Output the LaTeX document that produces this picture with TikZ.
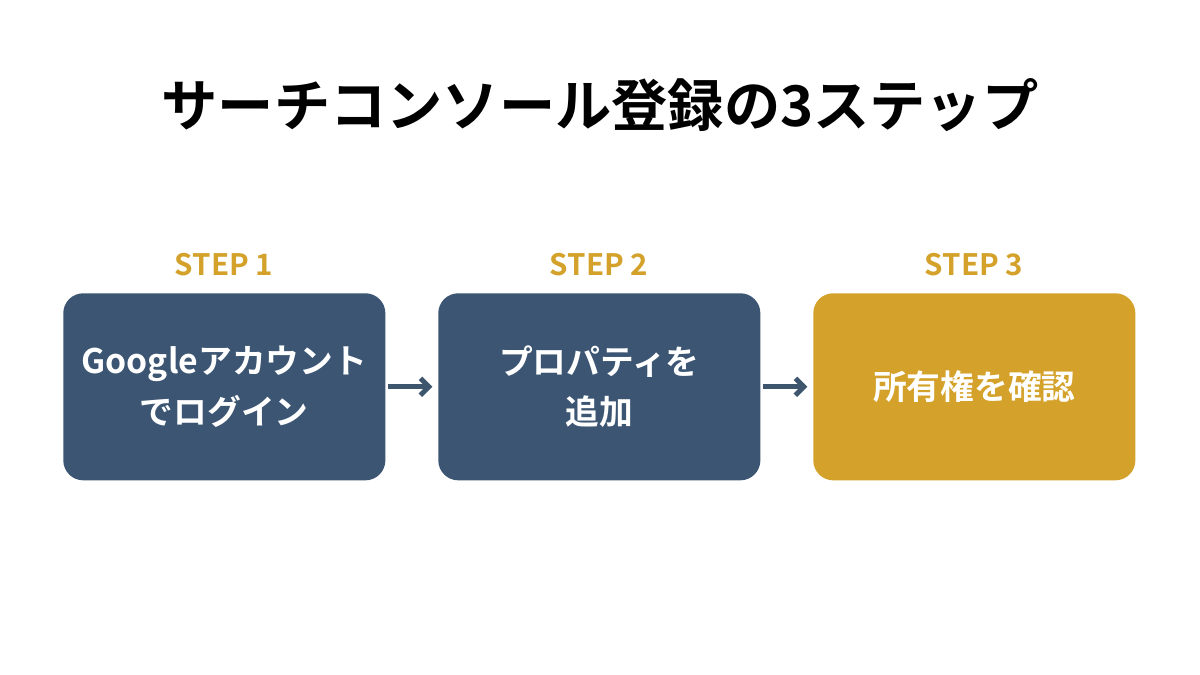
\documentclass[tikz,border=0pt]{standalone}
\usepackage{fontspec}
\setmainfont{Noto Sans CJK JP}[BoldFont={Noto Sans CJK JP Bold}]
\newfontfamily\jpb{Noto Sans CJK JP Bold}
\usetikzlibrary{arrows.meta}
\definecolor{boxblue}{HTML}{3B5573}
\definecolor{gold}{HTML}{D4A22A}
\definecolor{arr}{HTML}{3E556E}
\begin{document}
\begin{tikzpicture}[x=0.025cm,y=-0.025cm,
 box/.style={rounded corners=0.5cm,minimum width=8.05cm,minimum height=4.675cm,anchor=north west,inner sep=0pt,text=white,font=\jpb\fontsize{24}{36}\selectfont,align=center},
 steplab/.style={text=gold,font=\jpb\fontsize{21}{24}\selectfont},
 con/.style={arr,line width=3.5pt,-{Straight Barb[length=6pt,width=12pt]}}]
\fill[white] (0,0) rectangle (1200,675);
\node[font=\jpb\fontsize{40}{46}\selectfont] (title) at (600,105) {サーチコンソール登録の3ステップ};
\node[box,fill=boxblue] (b1) at (63,293) {Googleアカウント\\でログイン};
\node[box,fill=boxblue] (b2) at (438,293) {プロパティを\\追加};
\node[box,fill=gold] (b3) at (813,293) {所有権を確認};
\node[steplab] (s1) at (224,265) {STEP 1};
\node[steplab] (s2) at (599,265) {STEP 2};
\node[steplab] (s3) at (974,265) {STEP 3};
\draw[con] ([xshift=2pt]b1.east) -- ([xshift=-4pt]b2.west);
\draw[con] ([xshift=2pt]b2.east) -- ([xshift=-4pt]b3.west);
\end{tikzpicture}
\end{document}
